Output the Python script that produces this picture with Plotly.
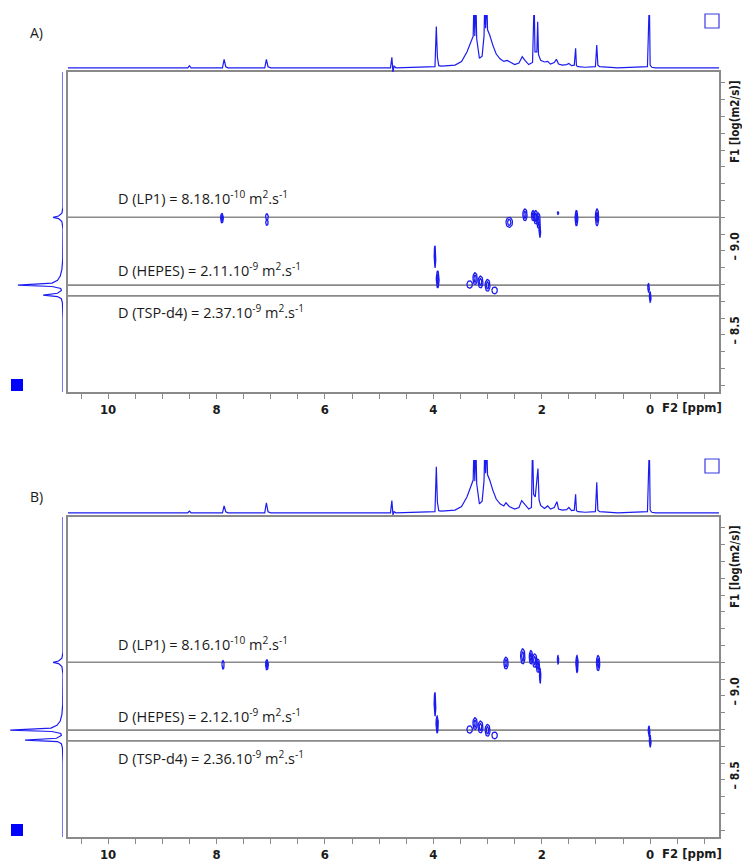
import numpy as np
import plotly.graph_objects as go

W, H = 742, 862
def px(x): return x / W
def py(y): return 1 - y / H

BLUE = '#1c1cf0'
GRAY = '#8a8a8a'
TXT = '#1a1a1a'

# ---------------- data ----------------
x_tickvals = [10.5, 10, 9.5, 9, 8.5, 8, 7.5, 7, 6.5, 6, 5.5, 5, 4.5, 4, 3.5, 3, 2.5, 2, 1.5, 1, 0.5, 0, -0.5, -1.0]
x_ticktext = ['', '10', '', '', '', '8', '', '', '', '6', '', '', '', '4', '', '', '', '2', '', '', '', '0', '', '']
y_tickvals = [-9.9, -9.8, -9.7, -9.6, -9.5, -9.4, -9.3, -9.2, -9.1, -9.0, -8.9, -8.8, -8.7, -8.6, -8.5, -8.4, -8.3, -8.2, -8.1]
y_ticktext = ['', '', '', '', '', '', '', '', '', '– 9.0', '', '', '', '', '– 8.5', '', '', '', '']
x_range = [10.74, -1.27]
y_range = [-8.06, -9.965]

compounds = ['LP1', 'HEPES', 'TSP-d4']
D_A = ['8.18.10<sup>-10</sup>', '2.11.10<sup>-9</sup>', '2.37.10<sup>-9</sup>']
D_B = ['8.16.10<sup>-10</sup>', '2.12.10<sup>-9</sup>', '2.36.10<sup>-9</sup>']
logD_A = [-9.10, -8.696, -8.632]
logD_B = [-9.10, -8.696, -8.632]

# 1D 1H spectrum (ppm, relative intensity) - panel A
spec_A = [(10.74, 0), (8.53, 0), (8.50, 0.04), (8.47, 0), (7.89, 0), (7.86, 0.16), (7.83, 0.02), (7.79, 0),
          (7.11, 0), (7.08, 0.16), (7.05, 0.02), (7.00, 0), (4.79, 0), (4.765, 0.2), (4.745, -0.08), (4.725, 0.03),
          (4.69, 0), (4.3, 0.01), (3.97, 0.02), (3.945, 0.78), (3.925, 0.2), (3.90, 0.04), (3.85, 0.03), (3.6, 0.05),
          (3.48, 0.12), (3.38, 0.3), (3.30, 0.5), (3.265, 0.6), (3.25, 1.3), (3.235, 0.6), (3.215, 1.3), (3.20, 0.55),
          (3.15, 0.18), (3.10, 0.22), (3.065, 0.6), (3.05, 1.3), (3.035, 0.75), (3.015, 1.3), (3.00, 0.72), (2.96, 0.62),
          (2.90, 0.42), (2.84, 0.26), (2.77, 0.17), (2.70, 0.12), (2.64, 0.14), (2.58, 0.1), (2.50, 0.06), (2.42, 0.09),
          (2.36, 0.21), (2.31, 0.14), (2.24, 0.06), (2.17, 0.1), (2.14, 1.3), (2.125, 0.3), (2.09, 0.3), (2.075, 0.87),
          (2.06, 0.25), (2.02, 0.14), (1.95, 0.11), (1.89, 0.12), (1.84, 0.07), (1.77, 0.1), (1.73, 0.16), (1.69, 0.07),
          (1.62, 0.05), (1.54, 0.06), (1.50, 0.08), (1.45, 0.04), (1.40, 0.05), (1.375, 0.37), (1.36, 0.04), (1.33, 0.02),
          (1.20, 0.01), (1.01, 0.02), (0.985, 0.43), (0.965, 0.05), (0.93, 0.02), (0.6, 0.0), (0.05, 0.02), (0.015, 1.3),
          (0.0, 0.05), (-0.03, 0.01), (-0.1, 0), (-1.27, 0)]

# 1D 1H spectrum - panel B
spec_B = [(10.74, 0), (8.53, 0), (8.50, 0.03), (8.47, 0), (7.89, 0), (7.86, 0.13), (7.83, 0.02), (7.79, 0),
          (7.11, 0), (7.08, 0.19), (7.05, 0.02), (7.00, 0), (4.79, 0), (4.765, 0.23), (4.745, -0.04), (4.725, 0.02),
          (4.69, 0), (4.3, 0.01), (3.97, 0.02), (3.945, 0.87), (3.925, 0.2), (3.90, 0.04), (3.85, 0.03), (3.6, 0.05),
          (3.48, 0.12), (3.38, 0.3), (3.30, 0.52), (3.265, 0.62), (3.25, 1.3), (3.235, 0.6), (3.215, 1.3), (3.20, 0.55),
          (3.15, 0.17), (3.10, 0.22), (3.065, 0.6), (3.05, 1.3), (3.035, 0.75), (3.015, 1.3), (3.00, 0.72), (2.96, 0.62),
          (2.90, 0.42), (2.84, 0.26), (2.77, 0.17), (2.70, 0.13), (2.66, 0.19), (2.60, 0.12), (2.50, 0.07), (2.42, 0.1),
          (2.37, 0.23), (2.31, 0.15), (2.24, 0.07), (2.19, 0.1), (2.17, 1.3), (2.15, 0.35), (2.12, 0.3), (2.07, 0.84),
          (2.05, 0.25), (2.02, 0.14), (1.95, 0.08), (1.89, 0.13), (1.84, 0.07), (1.77, 0.1), (1.72, 0.21), (1.69, 0.07),
          (1.62, 0.05), (1.54, 0.06), (1.50, 0.1), (1.45, 0.04), (1.40, 0.05), (1.375, 0.35), (1.36, 0.04), (1.33, 0.02),
          (1.20, 0.01), (1.01, 0.02), (0.985, 0.58), (0.965, 0.05), (0.93, 0.02), (0.6, 0.0), (0.05, 0.02), (0.015, 1.3),
          (0.0, 0.05), (-0.03, 0.01), (-0.1, 0), (-1.27, 0)]

# F1 projection (log D, relative intensity)
proj_A = [(-9.965, 0), (-9.16, 0), (-9.125, 0.02), (-9.108, 0.08), (-9.10, 0.18), (-9.092, 0.08), (-9.075, 0.02),
          (-9.03, 0), (-8.85, 0.005), (-8.79, 0.02), (-8.75, 0.05), (-8.725, 0.1), (-8.708, 0.2), (-8.696, 0.82),
          (-8.688, 0.2), (-8.676, 0.04), (-8.664, 0.03), (-8.648, 0.1), (-8.637, 0.36), (-8.628, 0.1), (-8.615, 0.03),
          (-8.59, 0.01), (-8.5, 0), (-8.06, 0)]
proj_B = [(-9.965, 0), (-9.16, 0), (-9.125, 0.02), (-9.108, 0.08), (-9.10, 0.18), (-9.092, 0.08), (-9.075, 0.02),
          (-9.03, 0), (-8.85, 0.005), (-8.79, 0.02), (-8.75, 0.05), (-8.725, 0.11), (-8.708, 0.22), (-8.696, 0.96),
          (-8.688, 0.2), (-8.676, 0.04), (-8.664, 0.03), (-8.648, 0.12), (-8.637, 0.69), (-8.628, 0.1), (-8.615, 0.03),
          (-8.59, 0.01), (-8.5, 0), (-8.06, 0)]

# DOSY cross peaks: (ppm, log D, half-width ppm, half-height log D)
peaks_A = [(7.90, -9.095, 0.025, 0.028), (7.07, -9.103, 0.025, 0.018), (7.07, -9.068, 0.022, 0.016),
           (2.60, -9.07, 0.06, 0.03), (2.31, -9.115, 0.04, 0.035),
           (2.16, -9.11, 0.03, 0.03), (2.11, -9.10, 0.035, 0.04), (2.06, -9.08, 0.03, 0.045), (2.035, -9.02, 0.014, 0.04),
           (1.70, -9.125, 0.012, 0.008), (1.36, -9.095, 0.025, 0.045), (0.98, -9.10, 0.03, 0.05),
           (3.97, -8.865, 0.014, 0.065), (3.92, -8.73, 0.025, 0.05),
           (3.33, -8.70, 0.05, 0.022), (3.23, -8.735, 0.04, 0.035), (3.13, -8.715, 0.045, 0.035),
           (3.00, -8.695, 0.045, 0.035), (2.87, -8.665, 0.05, 0.02),
           (0.03, -8.68, 0.015, 0.025), (0.0, -8.625, 0.015, 0.03)]
peaks_B = [(7.88, -9.085, 0.02, 0.025), (7.07, -9.085, 0.025, 0.03),
           (2.66, -9.095, 0.04, 0.035), (2.35, -9.135, 0.04, 0.045),
           (2.20, -9.13, 0.03, 0.04), (2.13, -9.11, 0.04, 0.04), (2.07, -9.08, 0.03, 0.04), (2.03, -9.02, 0.012, 0.045),
           (1.70, -9.115, 0.012, 0.025), (1.35, -9.09, 0.02, 0.05), (0.96, -9.095, 0.03, 0.045),
           (3.97, -8.85, 0.015, 0.07), (3.93, -8.73, 0.02, 0.05),
           (3.33, -8.70, 0.05, 0.022), (3.23, -8.735, 0.04, 0.035), (3.13, -8.715, 0.045, 0.035),
           (3.00, -8.695, 0.045, 0.035), (2.87, -8.665, 0.05, 0.02),
           (0.02, -8.69, 0.015, 0.03), (0.0, -8.63, 0.015, 0.035)]

# ---------------- figure ----------------
fig = go.Figure()

def outlines(peaks):
    t = np.linspace(0, 2 * np.pi, 29)
    xs, ys = [], []
    for (c, v, w, h) in peaks:
        xs += list(c + w * np.cos(t)) + [None]
        ys += list(v + h * np.sin(t)) + [None]
        if h > 0.025:
            xs += list(c + 0.5 * w * np.cos(t)) + [None]
            ys += list(v + 0.6 * h * np.sin(t)) + [None]
    return xs, ys

panels = [
    dict(label='A)', spec=spec_A, proj=proj_A, peaks=peaks_A, D=D_A, logD=logD_A, dy=0, lab_y=32,
         xa='x', ya='y', xs='x2', ys='y2'),
    dict(label='B)', spec=spec_B, proj=proj_B, peaks=peaks_B, D=D_B, logD=logD_B, dy=445, lab_y=497,
         xa='x3', ya='y3', xs='x4', ys='y4'),
]

shapes, annotations = [], []
axis_font = dict(family='DejaVu Sans Condensed, DejaVu Sans, sans-serif', size=13, color=TXT, weight='bold')
ytick_font = dict(axis_font, size=12)
for k, p in enumerate(panels):
    dy = p['dy']
    fig.add_trace(go.Scatter(x=[a for a, b in p['spec']], y=[b for a, b in p['spec']], mode='lines',
                             line=dict(color=BLUE, width=1.2), xaxis=p['xa'], yaxis=p['ys'], hoverinfo='skip'))
    fig.add_trace(go.Scatter(x=[b for a, b in p['proj']], y=[a for a, b in p['proj']], mode='lines',
                             line=dict(color=BLUE, width=1.2), xaxis=p['xs'], yaxis=p['ya'], hoverinfo='skip'))
    cx, cy = outlines(p['peaks'])
    fig.add_trace(go.Scatter(x=cx, y=cy, mode='lines', line=dict(color=BLUE, width=1.3),
                             xaxis=p['xa'], yaxis=p['ya'], hoverinfo='skip'))
    for v in p['logD']:
        shapes.append(dict(type='line', xref=p['xa'] + ' domain', yref=p['ya'], x0=0, x1=1, y0=v, y1=v,
                           line=dict(color=GRAY, width=1.6), layer='below'))
    text_y = [198, 270, 312]
    for name, dval, ty in zip(compounds, p['D'], text_y):
        annotations.append(dict(xref='paper', yref='paper', x=px(116), y=py(ty + dy), xanchor='left',
                                yanchor='middle', showarrow=False,
                                text=f'D ({name}) = {dval} m<sup>2</sup>.s<sup>-1</sup>',
                                font=dict(family='Open Sans, sans-serif', size=14.5, color=TXT)))
    annotations.append(dict(xref='paper', yref='paper', x=px(28), y=py(p['lab_y']), xanchor='left',
                            yanchor='middle', showarrow=False, text=p['label'],
                            font=dict(family='Open Sans, sans-serif', size=14, color=TXT)))
    annotations.append(dict(xref='paper', yref='paper', x=px(660), y=py(408 + dy), xanchor='left',
                            yanchor='middle', showarrow=False, text='F2 [ppm]', font=axis_font))
    annotations.append(dict(xref='paper', yref='paper', x=px(735), y=py(122 + dy), xanchor='center',
                            yanchor='middle', showarrow=False, text='F1 [log(m2/s)]', textangle=-90,
                            font=dict(axis_font, size=11.5)))
    shapes.append(dict(type='rect', xref='paper', yref='paper', x0=px(11), x1=px(23), y0=py(379 + dy),
                       y1=py(391 + dy), fillcolor='#0000ff', line=dict(width=0)))
    shapes.append(dict(type='rect', xref='paper', yref='paper', x0=px(705), x1=px(719), y0=py(14 + dy),
                       y1=py(28 + dy), fillcolor='rgba(0,0,0,0)', line=dict(color='#3a3adf', width=1.2)))

main_dom_x = [px(68), px(719)]
def yd(top, bottom):
    return [py(bottom), py(top)]

common_x = dict(range=x_range, tickmode='array', tickvals=x_tickvals, ticktext=x_ticktext, ticks='outside',
                ticklen=5, tickwidth=1.2, tickcolor=GRAY, showline=True, linecolor=GRAY, linewidth=1.6,
                mirror=True, showgrid=False, zeroline=False, tickfont=axis_font, domain=main_dom_x)
common_y = dict(range=y_range, tickmode='array', tickvals=y_tickvals, ticktext=y_ticktext, ticks='outside',
                ticklen=4, tickwidth=1.2, tickcolor=GRAY, showline=True, linecolor=GRAY, linewidth=1.6,
                mirror=True, showgrid=False, zeroline=False, tickfont=ytick_font, side='right', tickangle=-90,
                ticklabelshift=-14, ticklabelstandoff=0)
hidden = dict(visible=False, showgrid=False, zeroline=False)

fig.update_layout(
    width=W, height=H, autosize=False, margin=dict(l=0, r=0, t=0, b=0),
    paper_bgcolor='white', plot_bgcolor='white', showlegend=False,
    xaxis=dict(common_x, anchor='y'),
    yaxis=dict(common_y, anchor='x', domain=yd(72, 392)),
    yaxis2=dict(hidden, range=[-0.08, 1.0], domain=yd(15, 72), anchor='x'),
    xaxis2=dict(hidden, range=[1.0, 0], domain=[px(8), px(63)], anchor='y'),
    xaxis3=dict(common_x, anchor='y3'),
    yaxis3=dict(common_y, anchor='x3', domain=yd(517, 837)),
    yaxis4=dict(hidden, range=[-0.08, 1.0], domain=yd(460, 517), anchor='x3'),
    xaxis4=dict(hidden, range=[1.0, 0], domain=[px(8), px(63)], anchor='y3'),
    shapes=shapes, annotations=annotations,
)

# remove the default 8px page margin so the 742x862 figure fills the window exactly
fig.write_html("out.html", config={'displayModeBar': False},
               post_script="document.body.style.margin='0';document.body.style.overflow='hidden';")
